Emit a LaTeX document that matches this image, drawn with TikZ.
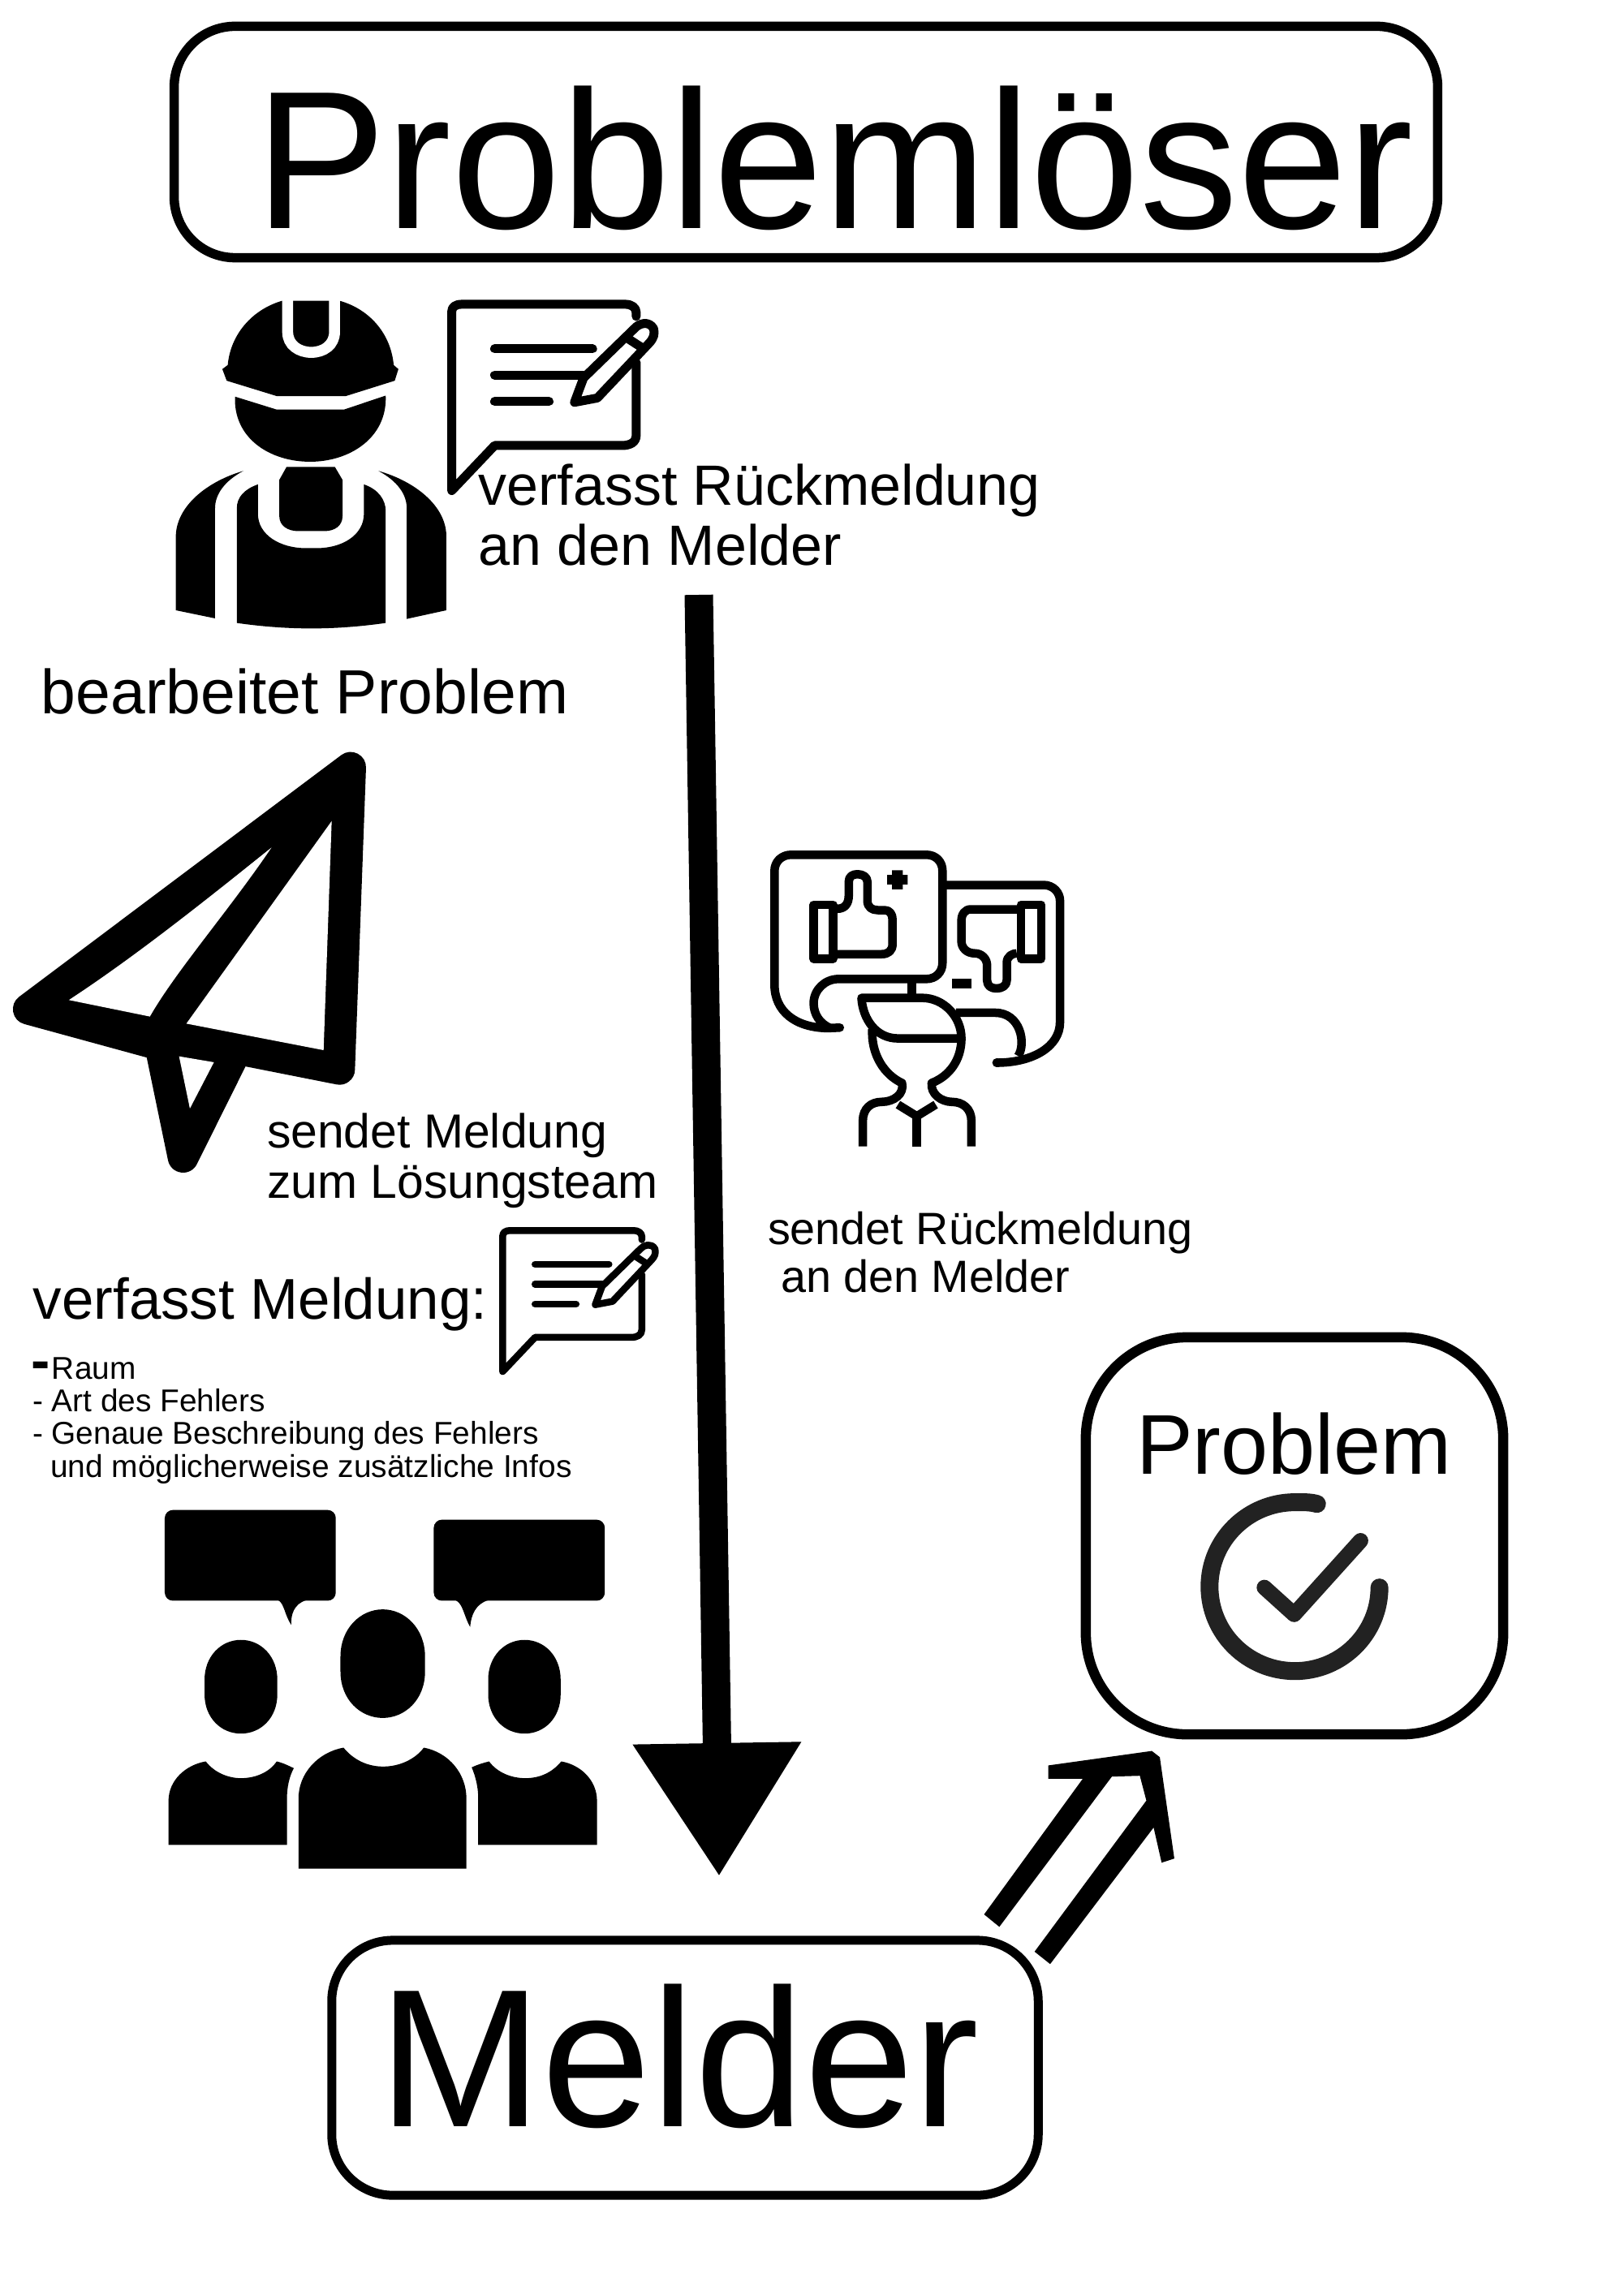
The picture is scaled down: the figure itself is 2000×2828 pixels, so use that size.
\documentclass[tikz,border=0pt]{standalone}
\usepackage{fontspec}
\setmainfont{Liberation Sans}
\usetikzlibrary{arrows.meta}
\tikzset{
  lab/.style={inner sep=0pt,outer sep=0pt,anchor=base west,text=black,align=left},
  framebox/.style={draw=black,fill=white,rounded corners=#1,inner sep=0pt,outer sep=0pt},
  lineicon/.style={draw=black,line width=0.105cm,line cap=round,line join=round},
  planestroke/.style={fill=black,draw=black,line width=0.38cm,line join=round,line cap=round},
  hole/.style={fill=white,draw=none},
  checkstroke/.style={draw=checkgrey,line cap=round,line join=round}
}
\definecolor{checkgrey}{HTML}{222222}
\newcommand{\fsz}[1]{\fontsize{#1}{#1}\selectfont}
% speech bubble with pencil, drawn in the coordinates of its large copy
\newcommand{\chatbody}[1]{%
  \draw[lineicon,line width=#1cm] (1350,150) -- (1350,135) .. controls (1350,118) and (1338,105) .. (1320,105) -- (870,105)
     .. controls (852,105) and (842,115) .. (842,132) -- (842,795) -- (960,628) -- (1310,628)
     .. controls (1335,628) and (1350,615) .. (1350,590) -- (1350,320);
  \draw[lineicon,line width=#1cm,line cap=round] (960,270) -- (1230,270) (960,367) -- (1205,367) (960,465) -- (1110,465);
  \draw[lineicon,line width=#1cm,fill=white] (1180,468) -- (1205,378) -- (1345,195) .. controls (1358,175) and (1385,165) .. (1398,195)
     .. controls (1402,215) and (1398,232) .. (1385,250) -- (1243,452) -- cycle;
  \draw[lineicon,line width=#1cm,line cap=butt] (1325,230) -- (1365,265);
}
\begin{document}
\begin{tikzpicture}[x=0.01cm,y=-0.01cm]
\useasboundingbox (0,0) rectangle (2000,2828);
\fill[white] (0,0) rectangle (2000,2828);

% frames
\node[framebox=0.75cm,line width=0.115cm,minimum width=15.56cm,minimum height=2.85cm] (plbox) at (993,175) {};
\node[framebox=0.75cm,line width=0.11cm,minimum width=8.70cm,minimum height=3.14cm] (mlbox) at (844,2548) {};
\node[framebox=1.25cm,line width=0.125cm,minimum width=5.14cm,minimum height=4.89cm] (pbbox) at (1595,1892.5) {};

% texts
\node[lab] (tpl) at (314,282) {\fsz{68.9}Problemlöser};
\node[lab] (tml) at (466,2620) {\fsz{68.9}Melder};
\node[lab] (tv1) at (589.5,623) {\fsz{19.9}verfasst Rückmeldung};
\node[lab] (tv2) at (589.5,697) {\fsz{19.9}an den Melder};
\node[lab] (tbp) at (51,879) {\fsz{21.85}bearbeitet Problem};
\node[lab] (ts1) at (329,1414) {\fsz{16.75}sendet Meldung};
\node[lab] (ts2) at (329,1476) {\fsz{16.75}zum Lösungsteam};
\node[lab] (tvm) at (41,1625) {\fsz{20.15}verfasst Meldung:};
\node[lab] (tdash) at (38,1700) {\fsz{19.9}\bfseries -};
\node[lab] (tr1) at (64,1699) {\fsz{11.04}Raum};
\node[lab] (tr2) at (40,1739) {\fsz{11.04}- Art des Fehlers};
\node[lab] (tr3) at (40,1779) {\fsz{11.04}- Genaue Beschreibung des Fehlers};
\node[lab] (tr4) at (62,1820) {\fsz{11.07}und möglicherweise zusätzliche Infos};
\node[lab] (tz1) at (946,1533) {\fsz{15.85}sendet Rückmeldung};
\node[lab] (tz2) at (962,1592) {\fsz{15.85}an den Melder};
\node[lab] (tpb) at (1400,1816) {\fsz{29.7}Problem};

% main vertical arrow
\coordinate (arrTop) at (861,733);
\coordinate (arrTip) at (886,2312);
\draw[line width=0.35cm,-{Triangle[length=1.64cm,width=1.98cm]}] (arrTop) -- (arrTip);

% outlined arrow towards the problem box, check mark
\begin{scope}[shift={(1200,1640)},x=0.004464cm,y=-0.005102cm]
\fill[black] (28,1410) -- (300,1082) -- (205,1082) -- (205,1050) -- (490,1015) -- (512,1030) -- (552,1275) -- (517,1285)
  -- (495,1200) -- (210,1530) -- (167,1500) -- (475,1135) -- (457,1075) -- (380,1077) -- (70,1440) -- cycle;
\draw[checkstroke,line width=0.22cm] (945,418) .. controls (925,413) and (905,414) .. (884,414)
  .. controls (755,414) and (649,505) .. (649,618) .. controls (649,731) and (755,822) .. (884,822)
  .. controls (1013,822) and (1117,731) .. (1117,620);
\draw[checkstroke,line width=0.19cm] (800,620) -- (882,685) -- (1065,507);
\end{scope}

% worker
\begin{scope}[shift={(180,340)},x=0.004464cm,y=-0.003333cm]
\fill[black] (375,92) .. controls (290,125) and (232,220) .. (225,330) -- (210,345) -- (222,388) -- (360,445) -- (550,445) -- (685,388)
   -- (695,345) -- (682,330) .. controls (675,220) and (620,125) .. (533,92) -- cycle;
\draw[white,line width=0.135cm] (390,85) -- (390,208) .. controls (390,255) and (420,283) .. (455,283) .. controls (490,283) and (519,255) .. (519,208) -- (519,85);
\fill[white] (300,60) rectangle (600,90);
\fill[black] (245,447) -- (360,495) -- (545,495) -- (660,443) .. controls (665,600) and (560,688) .. (452,688)
   .. controls (340,688) and (240,600) .. (245,447) -- cycle;
\fill[black] (387,707) -- (520,707) -- (541,755) -- (541,890) .. controls (541,925) and (520,945) .. (490,945) -- (420,945)
   .. controls (390,945) and (367,925) .. (367,890) -- (367,755) -- cycle;
\fill[black] (268,722) .. controls (215,760) and (190,810) .. (190,860) -- (190,1268) -- (82,1238) -- (82,960) .. controls (85,850) and (170,760) .. (268,722) -- cycle;
\fill[black] (308,772) -- (308,880) .. controls (308,960) and (370,1008) .. (440,1008) -- (470,1008) .. controls (540,1008) and (600,960) .. (600,880) -- (600,772)
   .. controls (640,790) and (660,830) .. (660,870) -- (660,1285) .. controls (520,1312) and (390,1312) .. (250,1285) -- (250,860) .. controls (250,820) and (270,790) .. (308,772) -- cycle;
\fill[black] (640,722) .. controls (693,760) and (718,810) .. (718,860) -- (718,1270) -- (827,1238) -- (827,960) .. controls (825,850) and (740,760) .. (640,722) -- cycle;
\end{scope}

% large speech bubble
\begin{scope}[shift={(180,340)},x=0.004464cm,y=-0.003333cm]
\chatbody{0.11}
\end{scope}
% small speech bubble
\begin{scope}[shift={(335.3,1489.8)},x=0.00337cm,y=-0.002525cm]
\chatbody{0.085}
\end{scope}

% paper plane
\begin{scope}[shift={(0,910)},x=0.003333cm,y=-0.003636cm]
\path[planestroke] (105,918) -- (1298,98) -- (1257,1122) -- (860,1050) -- (860,1085) -- (678,1420) -- (592,1040) -- cycle;
\fill[hole] (255,887) .. controls (500,740) and (760,550) .. (1005,370) .. controls (850,580) and (650,790) .. (555,943) -- cycle;
\fill[hole] (1228,280) -- (690,967) -- (1198,1057) -- cycle;
\fill[hole] (663,1078) -- (792,1098) -- (703,1255) -- cycle;
\end{scope}

% feedback person
\begin{scope}[shift={(920,1020)},x=0.003333cm,y=-0.003333cm]
\draw[lineicon] (345,740) -- (300,742) .. controls (180,740) and (103,680) .. (103,580) -- (103,160) .. controls (103,125) and (130,100) .. (165,100)
  -- (665,100) .. controls (700,100) and (725,125) .. (725,160) -- (725,500) .. controls (725,535) and (700,560) .. (665,560)
  -- (340,560) .. controls (290,560) and (248,600) .. (248,650) .. controls (248,690) and (270,725) .. (310,742);
\draw[lineicon,line cap=butt] (735,212) -- (1100,212) .. controls (1135,212) and (1160,240) .. (1160,270) -- (1160,720)
  .. controls (1160,810) and (1060,870) .. (925,870);
\draw[lineicon,line cap=round] (925,870) -- (930,870);
\draw[lineicon,line cap=butt] (1005,845) .. controls (1035,800) and (1015,685) .. (920,685) -- (775,685);
\draw[lineicon,line cap=butt] (612,570) -- (612,630);
\draw[lineicon] (425,630) -- (650,630) .. controls (730,630) and (795,700) .. (795,780) -- (560,780) .. controls (480,780) and (430,710) .. (425,630) -- cycle;
\draw[lineicon,line cap=butt] (465,745) .. controls (460,840) and (510,915) .. (575,945) .. controls (585,985) and (545,1015) .. (500,1015)
  .. controls (460,1015) and (430,1040) .. (430,1085) -- (430,1180);
\draw[lineicon,line cap=butt] (795,780) .. controls (795,860) and (750,920) .. (685,945) .. controls (680,985) and (720,1015) .. (760,1015)
  .. controls (800,1015) and (832,1040) .. (832,1085) -- (832,1180);
\draw[lineicon,line cap=butt] (560,1025) -- (630,1068) -- (700,1025);
\draw[lineicon,line cap=butt] (630,1065) -- (630,1180);
% thumb up
\draw[lineicon] (248,285) rectangle (320,485);
\draw[lineicon,line cap=butt] (335,300) .. controls (365,300) and (378,280) .. (378,250) -- (378,200) .. controls (378,180) and (392,172) .. (410,172)
  .. controls (430,172) and (447,182) .. (447,200) -- (447,270) .. controls (447,295) and (465,305) .. (485,305) -- (510,305)
  .. controls (530,305) and (540,320) .. (540,340) -- (540,430) .. controls (540,455) and (525,468) .. (500,468) -- (335,468);
\fill[black] (538,157) rectangle (578,228) (520,175) rectangle (596,210);
% thumb down
\draw[lineicon] (1015,285) rectangle (1090,485);
\draw[lineicon,line cap=butt] (1000,302) -- (830,302) .. controls (808,302) and (795,320) .. (795,345) -- (795,420) .. controls (795,445) and (815,465) .. (845,465)
  .. controls (870,465) and (890,485) .. (890,510) -- (890,565) .. controls (890,585) and (905,595) .. (925,595)
  .. controls (945,595) and (963,585) .. (963,565) -- (963,500) .. controls (963,475) and (985,465) .. (1000,465);
\fill[black] (760,560) rectangle (832,595);
\end{scope}

% group of people
\begin{scope}[shift={(180,1850)},x=0.003827cm,y=-0.003333cm]
\fill[black,rounded corners=0.1cm] (60,32) rectangle (610,368);
\fill[black] (425,366) .. controls (445,380) and (445,420) .. (467,458) .. controls (465,420) and (475,380) .. (515,366) -- cycle;
\fill[black,rounded corners=0.1cm] (925,68) rectangle (1475,368);
\fill[black] (995,366) .. controls (1020,380) and (1020,420) .. (1042,465) .. controls (1045,420) and (1060,380) .. (1100,366) -- cycle;
\fill[black] (188,660) .. controls (188,575) and (240,513) .. (305,513) .. controls (370,513) and (422,575) .. (422,660) -- (422,715)
  .. controls (422,800) and (370,860) .. (305,860) .. controls (240,860) and (188,800) .. (188,715) -- cycle;
\fill[black] (1100,660) .. controls (1100,575) and (1152,513) .. (1217,513) .. controls (1282,513) and (1333,575) .. (1333,660) -- (1333,715)
  .. controls (1333,800) and (1282,860) .. (1217,860) .. controls (1152,860) and (1100,800) .. (1100,715) -- cycle;
\fill[black] (625,575) .. controls (625,470) and (690,400) .. (761,400) .. controls (832,400) and (897,470) .. (897,575) -- (897,630)
  .. controls (897,735) and (832,802) .. (761,802) .. controls (690,802) and (625,735) .. (625,630) -- cycle;
\fill[black] (72,1272) -- (72,1110) .. controls (72,1030) and (130,975) .. (192,963) .. controls (220,1005) and (265,1025) .. (305,1025)
  .. controls (350,1025) and (395,1005) .. (420,963) .. controls (440,968) and (460,980) .. (475,988) .. controls (460,1020) and (453,1060) .. (453,1100) -- (453,1272) -- cycle;
\fill[black] (490,1360) -- (490,1100) .. controls (490,1010) and (550,930) .. (635,912) .. controls (665,955) and (710,982) .. (762,982)
  .. controls (815,982) and (865,955) .. (893,912) .. controls (975,930) and (1030,1010) .. (1030,1100) -- (1030,1360) -- cycle;
\fill[black] (1450,1272) -- (1450,1110) .. controls (1450,1030) and (1395,975) .. (1335,963) .. controls (1305,1005) and (1265,1025) .. (1220,1025)
  .. controls (1175,1025) and (1130,1005) .. (1103,963) .. controls (1085,968) and (1065,975) .. (1047,985) .. controls (1060,1020) and (1068,1060) .. (1068,1100) -- (1068,1272) -- cycle;
\end{scope}
\end{tikzpicture}
\end{document}
